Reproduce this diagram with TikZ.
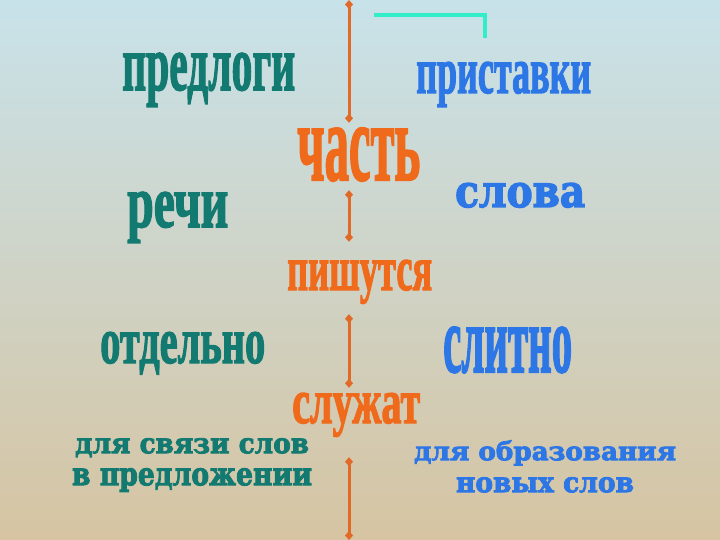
\documentclass[tikz,border=0pt]{standalone}
\usepackage{fontspec}
\usepackage{graphicx}
\usetikzlibrary{arrows.meta}
\newfontfamily\condfont{Liberation Serif}[BoldFeatures={FakeBold=2.2}]
\newfontfamily\widefont{DejaVu Serif}[BoldFeatures={FakeBold=3}]
\definecolor{wordteal}{RGB}{18,122,112}
\definecolor{wordblue}{RGB}{44,118,230}
\definecolor{wordorange}{RGB}{240,106,28}
\definecolor{lineorange}{RGB}{226,106,40}
\definecolor{markcyan}{RGB}{50,238,200}
\definecolor{bgtop}{RGB}{200,226,234}
\definecolor{bgmid}{RGB}{240,236,222}
\definecolor{bgbot}{RGB}{214,196,162}
% stretch a word to the box it fills in the slide
\newcommand{\fitword}[3]{\resizebox{#1pt}{#2pt}{#3}}

\begin{document}
\begin{tikzpicture}
  [x=1pt, y=-1pt,
  word/.style={inner sep=0pt, text depth=0pt, anchor=base west},
  tword/.style={word, text=wordteal, font=\condfont\bfseries},
  bword/.style={word, text=wordblue, font=\condfont\bfseries},
  oword/.style={word, text=wordorange, font=\condfont\bfseries},
  phrase/.style={inner sep=0pt, anchor=north, align=center, font=\widefont\bfseries\fontsize{20}{32}\selectfont},
  line/.style={draw=lineorange, line width=3pt, {Diamond[length=9pt,width=8pt]}-{Diamond[length=9pt,width=8pt]}}]

  % background
  \shade[top color=bgtop, middle color=bgmid, bottom color=bgbot] (0,0) rectangle (720,540);
  \useasboundingbox (0,0) rectangle (720,540);

  % left column
  \node [tword] (predlogi) at (122,90) {\fitword{173}{37}{предлоги}};
  \node [tword] (rechi) at (127,227) {\fitword{101}{35}{речи}};
  \node [tword] (otdelno) at (100,363) {\fitword{165}{31}{отдельно}};
  \node [phrase, text=wordteal] (svyaz) at (192,438)
    {\fitword{234}{15}{для связи слов}\\\fitword{240}{17}{в предложении}};

  % middle column
  \node [oword] (chast) at (297,180) {\fitword{123}{52}{часть}};
  \node [oword] (pishut) at (287,290) {\fitword{145}{30}{пишутся}};
  \node [oword] (sluzh) at (292,423) {\fitword{128}{30}{служат}};

  % right column
  \node [bword] (pristavki) at (416,93) {\fitword{175}{31}{приставки}};
  \node [word, text=wordblue, font=\widefont\bfseries] (slova) at (455,207) {\fitword{130}{24}{слова}};
  \node [bword] (slitno) at (443,372) {\fitword{129}{45}{слитно}};
  \node [phrase, text=wordblue] (obraz) at (545,440)
    {\fitword{262}{20}{для образования}\\\fitword{178}{15}{новых слов}};

  % corner mark
  \draw [markcyan, line width=4.5pt] (374,15) -- (485,15) -- (485,38);

  \coordinate (axtop) at (349,0);
  \coordinate (axbot) at (349,540);
  \begin{scope}[every path/.style=line]
    \path [shorten >=5pt] (axtop) -- (chast.north -| axtop);
    \path [shorten <=10pt, shorten >=18pt] (chast.south -| axtop) -- (pishut.north -| axtop);
    \path [shorten <=24pt, shorten >=5pt] (pishut.south -| axtop) -- (sluzh.north -| axtop);
    \path [shorten <=34pt] (sluzh.south -| axtop) -- (axbot);
  \end{scope}
\end{tikzpicture}
\end{document}
